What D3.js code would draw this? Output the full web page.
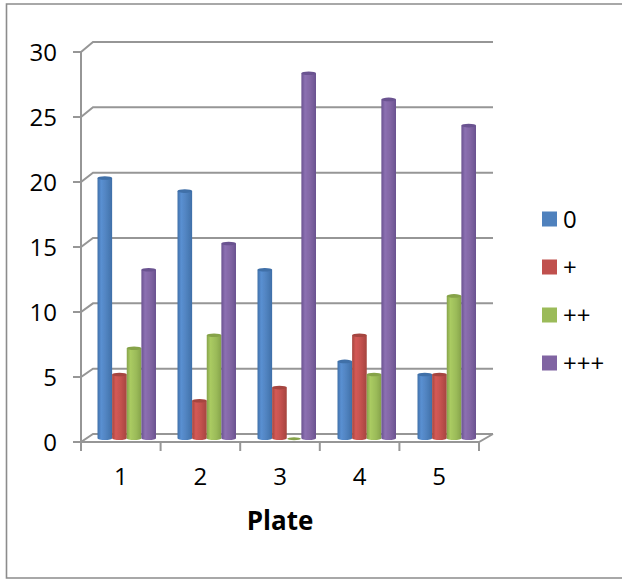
<!DOCTYPE html>
<html><head><meta charset="utf-8">
<script src="https://cdn.jsdelivr.net/npm/d3@7"></script>
<style>html,body{margin:0;padding:0;background:#fff}svg{display:block}text{font-family:"Open Sans",sans-serif;fill:#000}</style>
</head><body><svg id="c" width="622" height="579"></svg>
<script>
const plates=["1","2","3","4","5"];
const seriesNames=["0","+","++","+++"];
const s0=[20,19,13,6,5];
const s1=[5,3,4,8,5];
const s2=[7,8,0,5,11];
const s3=[13,15,28,26,24];
const yTicks=[0,5,10,15,20,25,30];
const colors=["#4f81bd","#c0504d","#9bbb59","#8064a2"];
const dark=["#3f6fa8","#a5453f","#86a34a","#6a5290"];
const light=["#5a90d2","#d45a56","#aacb62","#8c70b2"];
const all=[s0,s1,s2,s3];

const svg=d3.select("#c");
const defs=svg.append("defs");
colors.forEach((c,i)=>{
  const g=defs.append("linearGradient").attr("id","g"+i);
  [[0,dark[i]],[.25,light[i]],[.65,colors[i]],[1,dark[i]]].forEach(([o,col])=>g.append("stop").attr("offset",o).attr("stop-color",col));
});
defs.append("filter").attr("id","soft").append("feGaussianBlur").attr("stdDeviation",0.45);
svg.append("path").attr("d","M622,4H6.5V578H622").attr("fill","none").attr("stroke","#8c8c8c").attr("stroke-width",1.6);

const yFront=d3.scaleLinear().domain([0,30]).range([442,52]);
const yBack=d3.scaleLinear().domain([0,30]).range([434,42]);
const xFront=d3.scaleBand().domain(plates).range([81,479]);
const dx=12;
const axisColor="#969696";
const grid=svg.append("g").attr("fill","none").attr("stroke",axisColor).attr("stroke-width",2).attr("filter","url(#soft)");
yTicks.forEach(t=>{
  grid.append("path").attr("d",`M73,${yFront(t)}H81L${81+dx},${yBack(t)}H493`);
});
grid.append("path").attr("d",`M81,${yFront(30)}V${yFront(0)}`);
grid.append("path").attr("d",`M81,${yFront(0)}H479L493,${yBack(0)}`);
[...plates.map(p=>xFront(p)),479].forEach(x=>grid.append("path").attr("d",`M${x},442V451`));

// bars
const barY=d3.scaleLinear().domain([0,30]).range([440,47]);
const groupX=d3.scaleBand().domain(plates).range([97.5,497.5]);
const inner=d3.scaleBand().domain(d3.range(4)).range([0,58.5]);
const barsG=svg.append("g").attr("filter","url(#soft)");
plates.forEach((p,pi)=>{
  const gx=groupX(p);
  all.forEach((vals,si)=>{
    const v=vals[pi], x=gx+inner(si), w=inner.bandwidth(), top=barY(v), bot=barY(0), r=w/2, ry=1.8;
    if(v===0){
      barsG.append("ellipse").attr("cx",x+r).attr("cy",bot-1.2).attr("rx",r-.5).attr("ry",1.5).attr("fill",dark[si]);
      return;
    }
    barsG.append("path").attr("d",`M${x},${top}V${bot-ry}A${r},${ry} 0 0 0 ${x+w},${bot-ry}V${top}Z`).attr("fill",`url(#g${si})`);
    barsG.append("ellipse").attr("cx",x+r).attr("cy",top).attr("rx",r).attr("ry",ry).attr("fill",dark[si]);
  });
});

const fs=24;
const yl=svg.append("g");
yTicks.forEach(t=>yl.append("text").attr("x",57).attr("y",yFront(t)+8.5).attr("text-anchor","end").attr("font-size",fs).text(t));
plates.forEach(p=>svg.append("text").attr("x",xFront(p)+xFront.bandwidth()/2).attr("y",485).attr("text-anchor","middle").attr("font-size",fs).text(p));
svg.append("text").attr("x",280).attr("y",530).attr("text-anchor","middle").attr("font-size",26).attr("font-weight","bold").text("Plate");

const legY=d3.scalePoint().domain(seriesNames).range([219,363]);
seriesNames.forEach((n,i)=>{
  svg.append("rect").attr("x",542).attr("y",legY(n)-7.5).attr("width",15).attr("height",15).attr("fill",colors[i]);
  svg.append("text").attr("x",563).attr("y",legY(n)+8.5).attr("font-size",fs).text(n);
});
</script></body></html>
